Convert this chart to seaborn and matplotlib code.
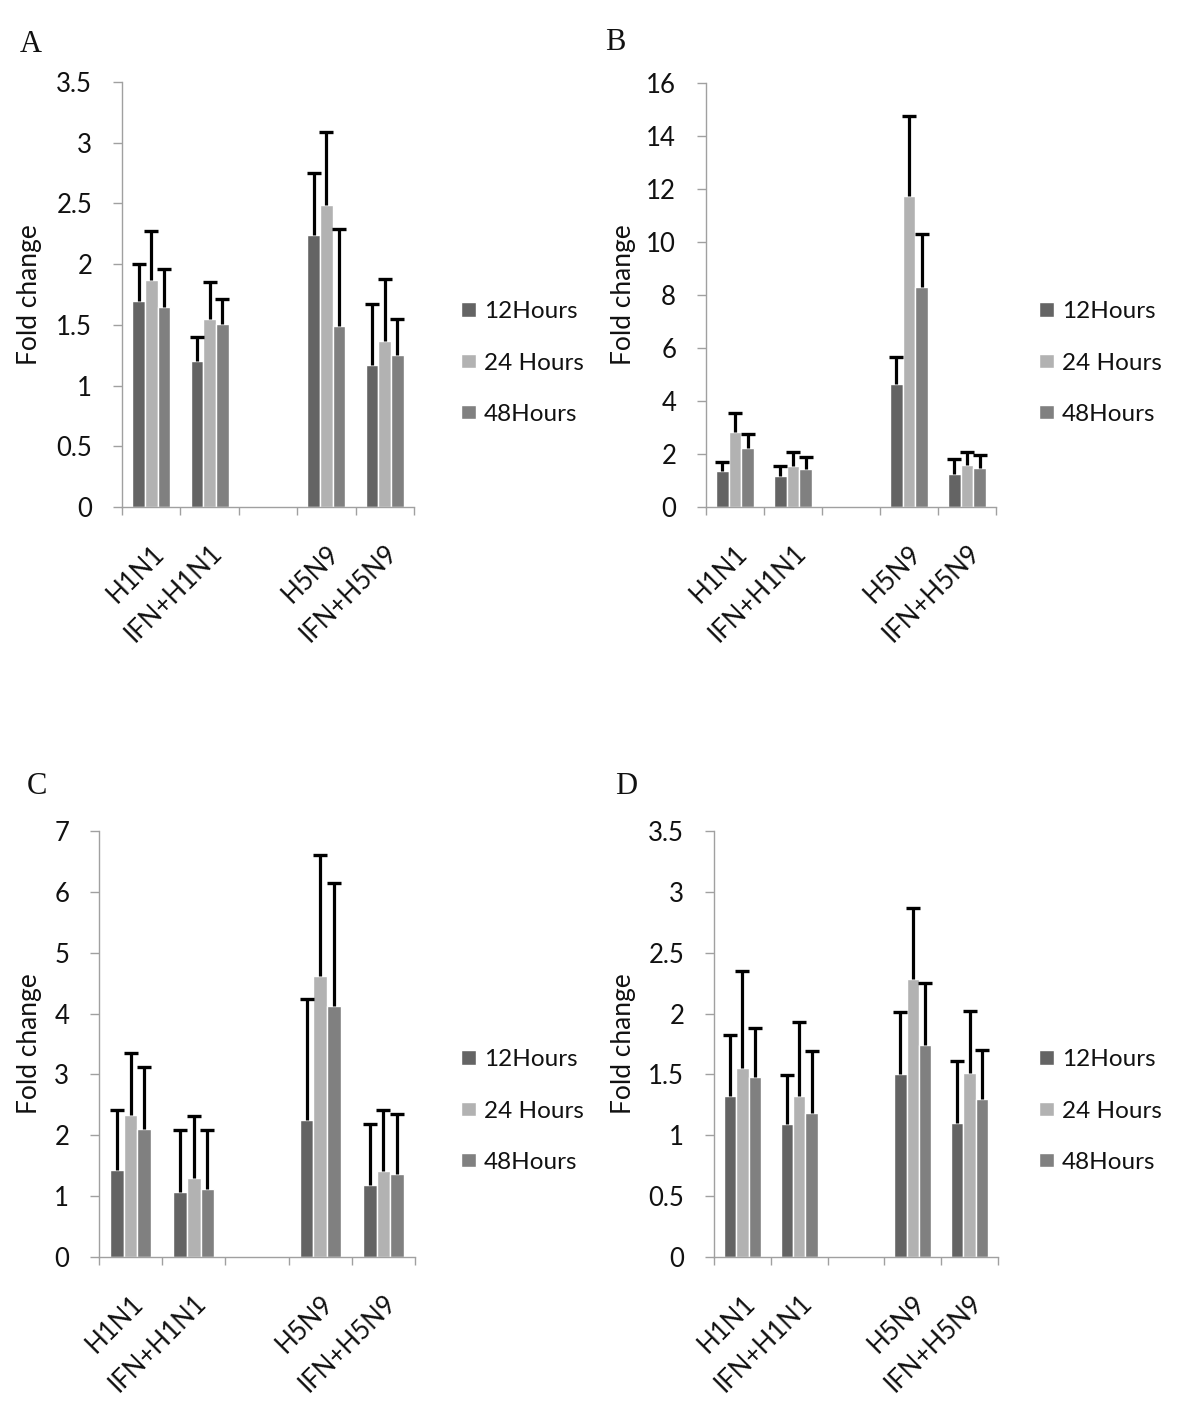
import numpy as np
import pandas as pd
import matplotlib
matplotlib.use("Agg")
import matplotlib.pyplot as plt
import matplotlib.transforms as mtransforms
import seaborn as sns
from matplotlib.ticker import FixedLocator, FuncFormatter

sns.set_theme(style="white")
plt.rcParams['font.family'] = ['Lato', 'DejaVu Sans']

categories = ["H1N1", "IFN+H1N1", "", "H5N9", "IFN+H5N9"]
data_cats = ["H1N1", "IFN+H1N1", "H5N9", "IFN+H5N9"]
series = ["12Hours", "24 Hours", "48Hours"]
colors = ["#646464", "#b2b2b2", "#808080"]

# Panel A
A_12 = [1.70, 1.20, 2.24, 1.17]
A_24 = [1.87, 1.55, 2.49, 1.37]
A_48 = [1.65, 1.51, 1.49, 1.25]
A_12_err = [0.30, 0.20, 0.51, 0.50]
A_24_err = [0.40, 0.30, 0.60, 0.51]
A_48_err = [0.31, 0.20, 0.80, 0.30]

# Panel B
B_12 = [1.37, 1.17, 4.63, 1.26]
B_24 = [2.83, 1.53, 11.75, 1.58]
B_48 = [2.22, 1.43, 8.29, 1.47]
B_12_err = [0.32, 0.38, 1.02, 0.54]
B_24_err = [0.73, 0.54, 3.00, 0.48]
B_48_err = [0.54, 0.44, 2.00, 0.48]

# Panel C
C_12 = [1.43, 1.06, 2.25, 1.18]
C_24 = [2.34, 1.29, 4.61, 1.42]
C_48 = [2.11, 1.11, 4.12, 1.36]
C_12_err = [0.98, 1.02, 1.99, 1.01]
C_24_err = [1.02, 1.02, 1.99, 0.99]
C_48_err = [1.01, 0.98, 2.02, 0.99]

# Panel D
D_12 = [1.32, 1.09, 1.50, 1.10]
D_24 = [1.55, 1.32, 2.28, 1.51]
D_48 = [1.48, 1.18, 1.74, 1.30]
D_12_err = [0.50, 0.405, 0.51, 0.51]
D_24_err = [0.80, 0.61, 0.59, 0.51]
D_48_err = [0.40, 0.51, 0.51, 0.40]

A_ticks = [0, 0.5, 1, 1.5, 2, 2.5, 3, 3.5]
B_ticks = [0, 2, 4, 6, 8, 10, 12, 14, 16]
C_ticks = [0, 1, 2, 3, 4, 5, 6, 7]
D_ticks = [0, 0.5, 1, 1.5, 2, 2.5, 3, 3.5]

panels = [
    ("A", [A_12, A_24, A_48], [A_12_err, A_24_err, A_48_err], A_ticks),
    ("B", [B_12, B_24, B_48], [B_12_err, B_24_err, B_48_err], B_ticks),
    ("C", [C_12, C_24, C_48], [C_12_err, C_24_err, C_48_err], C_ticks),
    ("D", [D_12, D_24, D_48], [D_12_err, D_24_err, D_48_err], D_ticks),
]

W, H = 1200, 1409
fig = plt.figure(figsize=(W / 100, H / 100), dpi=100)

# pixel boxes: left, right, top, bottom
boxes = {
    "A": (122, 414, 82, 507),
    "B": (706, 996, 83, 507),
    "C": (99, 415, 831, 1257),
    "D": (714, 998, 831, 1257),
}
ylabel_x = {"A": 42, "B": 636, "C": 42, "D": 636}
letter_pos = {"A": (20, 45), "B": (605, 42), "C": (27, 786), "D": (615, 786)}
legend_pos = {"A": (461, 363), "B": (1039, 363), "C": (461, 1111), "D": (1039, 1111)}

axis_gray = "#a0a0a0"
tick_fs = 18.5
legend_fs = 17.5
label_fs = 19

for name, vals, errs, ticks in panels:
    l, r, t, b = boxes[name]
    ax = fig.add_axes([l / W, 1 - b / H, (r - l) / W, (b - t) / H])
    rows = []
    for s, v, e in zip(series, vals, errs):
        for c, vv, ee in zip(data_cats, v, e):
            rows.append({"cat": c, "series": s, "value": vv, "err": ee})
    df = pd.DataFrame(rows)
    sns.barplot(data=df, x="cat", y="value", hue="series", order=categories,
                hue_order=series, palette=colors, width=0.65, errorbar=None,
                saturation=1, ax=ax, legend=True)
    # upper-only error bars placed on the bars drawn by seaborn
    for cont, s in zip(ax.containers, series):
        sub = df[df.series == s].set_index("cat")
        for p in cont.patches:
            h = p.get_height()
            if np.isnan(h):
                continue
            xc = p.get_x() + p.get_width() / 2
            cat = categories[int(round(xc))]
            e = sub.loc[cat, "err"]
            ax.vlines(xc, h, h + e, colors="black", linewidth=2.3, zorder=5)
            ax.plot([xc], [h + e], marker="_", markersize=9.5,
                    markeredgewidth=2.4, color="black", zorder=6,
                    clip_on=False)
    ax.set_xlim(-0.5, 4.5)
    ax.set_ylim(ticks[0], ticks[-1])
    ax.yaxis.set_major_locator(FixedLocator(ticks))
    ax.yaxis.set_major_formatter(FuncFormatter(lambda v, p: f"{v:g}"))
    ax.set_xticks(range(len(categories)))
    ax.set_xticklabels(categories, rotation=45, ha="right", va="top",
                       rotation_mode="anchor", fontsize=tick_fs,
                       color="#111111")
    offset = mtransforms.ScaledTranslation(6 / 100, 0, fig.dpi_scale_trans)
    for lab in ax.get_xticklabels():
        lab.set_transform(lab.get_transform() + offset)
    ax.xaxis.set_minor_locator(FixedLocator(np.arange(-0.5, 4.6, 1.0)))
    ax.tick_params(axis="x", which="major", length=0, pad=24)
    ax.tick_params(axis="x", which="minor", length=6, width=1,
                   color=axis_gray, direction="out", bottom=True)
    ax.tick_params(axis="y", which="major", length=6.5, width=1,
                   color=axis_gray, direction="out", left=True,
                   labelsize=tick_fs, labelcolor="#111111", pad=15)
    for sp in ["top", "right"]:
        ax.spines[sp].set_visible(False)
    for sp in ["left", "bottom"]:
        ax.spines[sp].set_color(axis_gray)
        ax.spines[sp].set_linewidth(1.0)
    ax.set_xlabel("")
    ax.set_ylabel("Fold change", fontsize=label_fs, color="#111111")
    ax.yaxis.set_label_coords((ylabel_x[name] - l) / (r - l), 0.5)
    lx, ly = legend_pos[name]
    sns.move_legend(ax, "center left", bbox_to_anchor=(lx / W, 1 - ly / H),
                    bbox_transform=fig.transFigure, frameon=False, title=None,
                    fontsize=legend_fs, handlelength=0.62, handleheight=0.55,
                    handletextpad=0.33, labelspacing=1.24, borderpad=0,
                    borderaxespad=0)
    for txt in ax.get_legend().get_texts():
        txt.set_color("#111111")
    px, py = letter_pos[name]
    fig.text(px / W, 1 - py / H, name, fontsize=22,
             family=["Liberation Serif", "DejaVu Serif"], va="center",
             ha="left", color="#111111")

fig.savefig("out.png", dpi=100, facecolor="white")
